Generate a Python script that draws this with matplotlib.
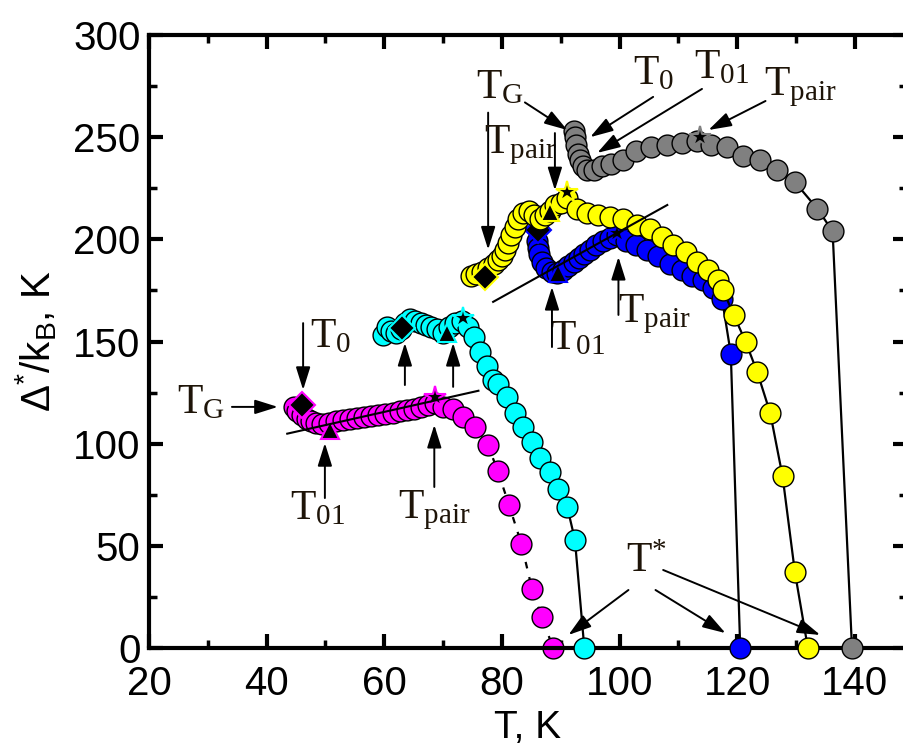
import numpy as np
import matplotlib
matplotlib.use("Agg")
from matplotlib import pyplot as plt
from matplotlib.ticker import MultipleLocator

# Delta*/kB vs T for five samples
mag_T = [44.6, 45.2, 46.0, 46.8, 47.6, 48.4, 49.4, 50.6, 51.8, 53.0, 54.2, 55.4, 56.6, 57.8,
         59.0, 60.2, 61.4, 62.6, 63.8, 65.0, 66.2, 67.4, 68.6, 70.0, 71.7, 73.4, 75.5, 77.6,
         79.3, 81.2, 83.3, 85.1, 86.8, 88.7]
mag_D = [118, 116, 114, 112, 111, 110, 109.5, 110, 111, 111.5, 112, 112.5, 113, 113.5,
         114, 114.5, 115, 116, 116.5, 117, 118, 119, 120, 118, 117, 113, 108, 99.5,
         86.5, 70, 51, 29, 15, 0]

cyan_T = [59.8, 60.4, 61.2, 62.0, 62.8, 63.6, 64.4, 65.3, 66.2, 67.1, 68.0, 69.0, 70.0, 71.0,
          72.0, 73.2, 74.3, 75.3, 76.3, 77.4, 78.4, 79.3, 80.9, 82.2, 83.6, 85.1, 86.5, 88.2,
          89.6, 91.1, 92.4, 94.0]
cyan_D = [153, 157, 155, 154, 156, 159, 161, 160, 159, 158, 157, 156, 154, 157,
          159, 160, 157, 152, 145, 138, 131, 129, 123, 115, 108, 101, 93, 86,
          78, 69, 53, 0]

blue_T = [86.0, 86.1, 86.3, 86.8, 87.5, 88.5, 89.4, 90.4, 91.3, 92.2, 93.1, 94.0, 95.0, 96.0,
          97.2, 98.3, 99.6, 101.0, 102.7, 104.7, 106.6, 108.6, 110.6, 112.3, 114.2, 115.9,
          117.4, 118.9, 120.5]
blue_D = [199, 196, 193, 189, 186, 184, 183.5, 185, 187, 189, 191, 193, 195, 197,
          199, 200.5, 202, 199, 197, 195, 192, 188, 185, 182, 180, 176,
          171, 144, 0]

yellow_T = [74.8, 75.6, 76.6, 77.6, 78.6, 79.4, 80.0, 80.5, 81.0, 81.6, 82.2, 82.8, 83.6, 84.6,
            85.5, 86.4, 87.3, 88.2, 89.0, 90.0, 91.0, 92.8, 94.5, 96.4, 98.4, 100.6, 103.0,
            105.2, 107.2, 109.1, 111.2, 113.2, 115.1, 116.8, 117.6, 119.4, 121.4, 123.4,
            125.6, 127.7, 129.8, 132.0]
yellow_D = [182, 183, 184, 186, 188, 190, 192, 195, 198, 202, 206, 210, 213, 214,
            212, 210, 212, 214, 217, 218, 220, 215, 213, 212, 211, 210, 207,
            205, 201, 197, 194, 189, 185, 180, 175, 163, 150, 135,
            115, 84, 37, 0]

gray_T = [92.3, 92.4, 92.6, 92.9, 93.3, 93.8, 94.5, 95.6, 97.0, 98.6, 100.5, 102.8, 105.4,
          108.0, 110.6, 113.2, 115.6, 118.2, 121.0, 123.8, 126.7, 129.8, 133.6, 136.2, 139.5]
gray_D = [253, 250, 246, 242, 239, 236, 234, 234, 236, 237, 239, 243, 245,
          246, 247, 248, 246, 245, 241, 239, 234, 228, 215, 204, 0]

# characteristic points: (T_G / T0 diamond, T01 triangle, Tpair star)
mag_marks = [(46.0, 119.0), (50.8, 106.7), (68.6, 123.0)]
cyan_marks = [(63.0, 156.6), (70.6, 154.0), (73.4, 161.5)]
yellow_marks = [(77.1, 181.7), (88.2, 213.6), (91.0, 223.0)]
blue_marks = [(86.2, 204.6), (89.6, 183.4), (99.5, 203.0)]
gray_marks = [None, None, (113.7, 250.0)]

# straight fit lines
mag_fit_T = [43.5, 76.0]
mag_fit_D = [104.9, 125.9]
blue_fit_T = [78.5, 108.1]
blue_fit_D = [169.4, 216.8]

# labels: (text, text position, list of arrows (start, end))
labels = [
    (r"$\mathregular{T_{G}}$", (79.7, 274.0), [((83.9, 267.0), (91.1, 253.5)),
                                                ((77.65, 262.0), (77.65, 195.0))]),
    (r"$\mathregular{T_{pair}}$", (83.1, 246.0), [((89.0, 252.0), (89.0, 224.0))]),
    (r"$\mathregular{T_{0}}$", (105.8, 281.0), [((105.7, 269.7), (95.0, 250.0))]),
    (r"$\mathregular{T_{01}}$", (117.3, 283.6), [((114.0, 273.6), (96.2, 242.3))]),
    (r"$\mathregular{T_{pair}}$", (130.7, 274.4), [((124.8, 267.7), (115.1, 253.5))]),
    (r"$\mathregular{T_{01}}$", (92.9, 151.0), [((88.5, 147.3), (88.5, 176.7))]),
    (r"$\mathregular{T_{pair}}$", (105.9, 163.5), [((99.8, 163.0), (99.8, 191.4))]),
    (None, None, [((63.5, 128.7), (63.5, 149.3)), ((71.7, 127.8), (71.7, 149.3))]),
    (r"$\mathregular{T_{0}}$", (50.8, 152.0), [((46.2, 159.0), (46.2, 126.3))]),
    (r"$\mathregular{T_{G}}$", (28.8, 119.7), [((34.1, 118.0), (41.9, 118.0))]),
    (r"$\mathregular{T_{01}}$", (48.7, 68.0), [((49.9, 73.4), (49.9, 100.3))]),
    (r"$\mathregular{T_{pair}}$", (68.5, 67.5), [((68.5, 78.8), (68.5, 109.2))]),
    (r"$\mathregular{T^{*}}$", (104.6, 42.4), [((101.5, 28.4), (91.3, 6.4)),
                                               ((106.1, 28.4), (118.0, 7.3)),
                                               ((107.4, 38.2), (134.1, 6.4))]),
]

series = [
    (mag_T, mag_D, "#ff00ff", mag_marks, (0, (3, 4))),
    (cyan_T, cyan_D, "#00ffff", cyan_marks, "-"),
    (blue_T, blue_D, "#0000ff", blue_marks, "-"),
    (yellow_T, yellow_D, "#ffff00", yellow_marks, "-"),
    (gray_T, gray_D, "#808080", gray_marks, "-"),
]

fig = plt.figure(figsize=(9.04, 7.49), dpi=100)
ax = fig.add_axes([0.1648, 0.1348, 1.003 - 0.1648, 0.9533 - 0.1348])

z = 2
for T, D, color, marks, ls in series:
    ax.plot(T, D, color="black", lw=1.6, ls=ls, zorder=z)
    ax.plot(T, D, "o", ms=15, mfc=color, mec="black", mew=1.0, zorder=z + 0.1, clip_on=False)
    for m, pt in zip(["D", "^", "*"], marks):
        if pt is None:
            continue
        ax.plot(pt[0], pt[1], m, ms=13 if m != "*" else 16, mfc="black", mec=color,
                mew=1.5, zorder=z + 0.2)
    z += 1

ax.plot(mag_fit_T, mag_fit_D, color="black", lw=1.5, zorder=10)
ax.plot(blue_fit_T, blue_fit_D, color="black", lw=1.5, zorder=10)

txt_color = "#1e1408"
for text, pos, arrows in labels:
    if text is not None:
        ax.text(pos[0], pos[1], text, fontsize=30, family="Liberation Serif",
                color=txt_color, ha="center", va="center", zorder=12)
    for start, end in arrows:
        ax.annotate("", xy=end, xytext=start,
                    arrowprops=dict(arrowstyle="-|>,head_length=0.7,head_width=0.22",
                                    color="black", lw=1.4, shrinkA=0, shrinkB=0,
                                    mutation_scale=20),
                    zorder=12)

ax.set_xlim(20, 148.8)
ax.set_ylim(0, 300)
ax.xaxis.set_major_locator(MultipleLocator(20))
ax.xaxis.set_minor_locator(MultipleLocator(10))
ax.yaxis.set_major_locator(MultipleLocator(50))
ax.yaxis.set_minor_locator(MultipleLocator(25))

for s in ax.spines.values():
    s.set_linewidth(3)
ax.tick_params(which="both", direction="in", top=True, right=True)
ax.tick_params(which="major", length=10, width=3)
ax.tick_params(which="minor", length=6, width=2.5)
ax.tick_params(axis="y", labelsize=29, pad=6)
ax.tick_params(axis="x", labelsize=29, pad=12)
for lab in ax.get_yticklabels() + ax.get_xticklabels():
    lab.set_family("Liberation Sans")

ax.set_xlabel("T, K", fontsize=28, family="Liberation Sans", labelpad=5)
ax.set_ylabel(r"$\mathregular{\Delta^{*}/k_{B}}$, K", fontsize=29, family="Liberation Sans",
              labelpad=10)

plt.savefig("out.png", dpi=100)
